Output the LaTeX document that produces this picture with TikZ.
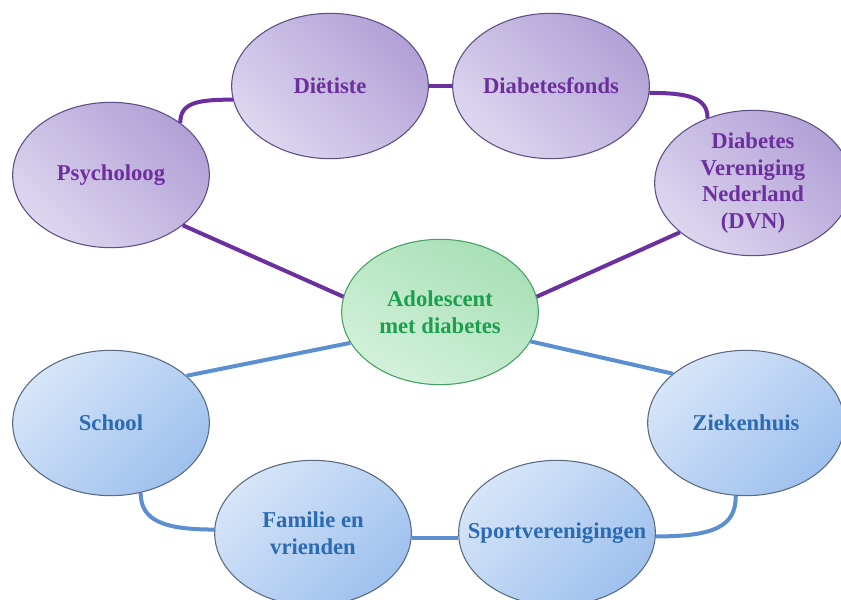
\documentclass[tikz,border=0pt]{standalone}
\usepackage{fontspec}
\setmainfont{Liberation Serif}
\usetikzlibrary{shapes.geometric}
\definecolor{pdark}{HTML}{B2A1D6}
\definecolor{plight}{HTML}{DDD6EF}
\definecolor{pborder}{HTML}{5E4E86}
\definecolor{ptext}{HTML}{6E2F9E}
\definecolor{pline}{HTML}{6C2FA0}
\definecolor{bdark}{HTML}{9FC1EE}
\definecolor{blight}{HTML}{D6E5F8}
\definecolor{bborder}{HTML}{5A6A80}
\definecolor{btext}{HTML}{2C6BB2}
\definecolor{bline}{HTML}{5B8FD0}
\definecolor{gdark}{HTML}{A8E0B6}
\definecolor{glight}{HTML}{D3F1DA}
\definecolor{gborder}{HTML}{45A064}
\definecolor{gtext}{HTML}{1C9F4E}
\begin{document}
\begin{tikzpicture}[x=0.75pt,y=-0.75pt,
  bub/.style={ellipse, minimum width=147.5pt, minimum height=109pt, inner sep=0pt, line width=0.8pt},
  pbub/.style={bub, draw=pborder, top color=pdark, bottom color=plight, shading angle=-45},
  bbub/.style={bub, draw=bborder, top color=blight, bottom color=bdark, shading angle=45},
  gbub/.style={bub, draw=gborder, top color=gdark, bottom color=glight, shading angle=-30},
  txt/.style={font=\bfseries\fontsize{17}{20}\selectfont, align=center, inner sep=0pt},
  ptxt/.style={txt, text=ptext},
  btxt/.style={txt, text=btext},
  gtxt/.style={txt, text=gtext},
  pcon/.style={draw=pline, line width=3pt},
  bcon/.style={draw=bline, line width=3pt},
]
\clip (0,0) rectangle (841,599);
\fill[white] (0,0) rectangle (841,599);
% purple group
\node[pbub, label={[ptxt]center:Psycholoog}] (psy) at (111,175) {};
\node[pbub, label={[ptxt]center:Diëtiste}] (die) at (330,86) {};
\node[pbub, label={[ptxt]center:Diabetesfonds}] (fonds) at (551,86) {};
\node[pbub, label={[ptxt]center:{Diabetes\\Vereniging\\Nederland\\(DVN)}}] (dvn) at (753,183) {};
% centre
\node[gbub, label={[gtxt]center:{Adolescent\\met diabetes}}] (ado) at (440,312) {};
% blue group
\node[bbub, label={[btxt]center:School}] (school) at (111,423) {};
\node[bbub, label={[btxt]center:Ziekenhuis}] (zie) at (746,423) {};
\node[bbub, label={[btxt]center:{Familie en\\vrienden}}] (fam) at (313,533) {};
\node[bbub, label={[btxt]center:Sportverenigingen}] (sport) at (557,533) {};
% purple connectors
\draw[pcon] (psy.37) .. controls +(0,-20) and +(-36,0) .. (die.188);
\draw[pcon] (die.east) -- (fonds.west);
\draw[pcon] (fonds.-4) .. controls +(40,0) and +(0,-20) .. (dvn.125);
\draw[pcon] (psy.-35) -- (ado.171);
\draw[pcon] (dvn.214) -- (ado.9);
% blue connectors
\draw[bcon] (school.32) -- (ado.199);
\draw[bcon] (ado.-18) -- (zie.146);
\draw[bcon] (school.-67) .. controls +(0,28) and +(-50,0) .. (fam.178);
\draw[bcon] (fam.-3) -- (sport.183);
\draw[bcon] (sport.-2) .. controls +(60,0) and +(0,30) .. (zie.262);
\end{tikzpicture}
\end{document}
